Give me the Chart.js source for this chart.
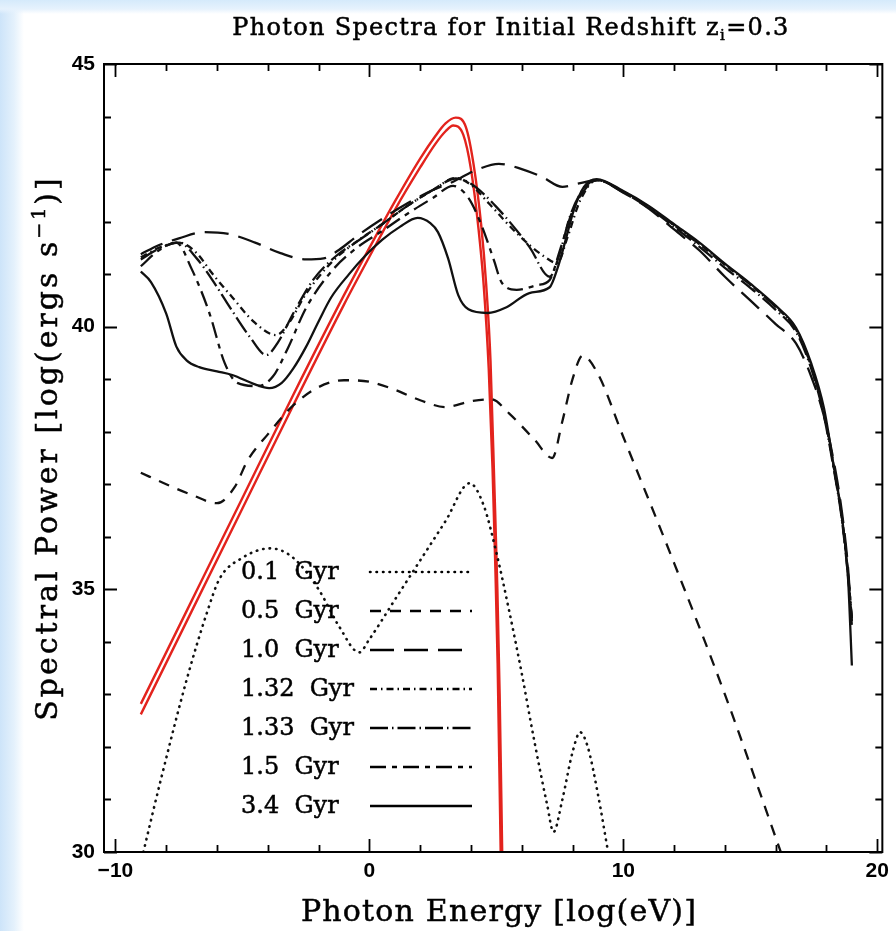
<!DOCTYPE html>
<html>
<head>
<meta charset="utf-8">
<title>Photon Spectra</title>
<script src="https://cdn.jsdelivr.net/npm/chart.js@4.4.1/dist/chart.umd.min.js"></script>
<style>
  html, body { margin: 0; padding: 0; }
  body {
    width: 896px;
    height: 931px;
    overflow: hidden;
    background:
      linear-gradient(to bottom, #d5eafb 0, #e6f2fd 9px, rgba(255,255,255,0) 14px),
      linear-gradient(to right, #cde4f9 0, #e4f1fc 14px, #ffffff 24px);
  }
  #wrap { position: absolute; left: 0; top: 0; width: 896px; height: 931px; }
</style>
</head>
<body>
<div id="wrap"><canvas id="spectra" width="896" height="931"></canvas></div>
<script>
'use strict';

// ages shown in the key, top to bottom
var ageLabels = ['0.1 Gyr', '0.5 Gyr', '1.0 Gyr', '1.32 Gyr', '1.33 Gyr', '1.5 Gyr', '3.4 Gyr'];

// log photon energy [log(eV)] and spectral power [log(erg/s)] per age
var logE01 = [-8.9, -8.2, -7.2, -6.4, -5.9, -5.0, -3.9, -3.0, -2.0, -1.2, -0.4, 0.0, 1.0, 2.0, 3.0, 3.95, 4.5, 5.0, 5.5, 6.0, 6.5, 7.0, 7.25, 7.6, 8.0, 8.3, 8.6, 9.0, 9.4];
var logP01 = [30.0, 31.4, 33.27, 34.55, 35.2, 35.6, 35.78, 35.6, 35.0, 34.3, 33.8, 34.05, 34.8, 35.55, 36.3, 37.02, 36.6, 35.7, 34.6, 33.4, 32.1, 30.9, 30.38, 31.0, 31.9, 32.28, 32.0, 31.1, 30.0];

var logE05 = [-9, -8, -7, -6, -5.3, -4.8, -4, -3, -2, -1, 0, 1, 2, 3, 4, 4.8, 5.5, 6.5, 7.2, 7.6, 8.0, 8.4, 9.0, 10, 12, 14, 16.2];
var logP05 = [37.22, 37.0, 36.8, 36.64, 36.95, 37.45, 37.95, 38.5, 38.85, 38.98, 38.95, 38.8, 38.6, 38.47, 38.58, 38.62, 38.35, 37.85, 37.5, 38.2, 39.0, 39.45, 39.1, 37.9, 35.5, 33.0, 30.0];

var logE10 = [-9, -8.3, -7.5, -6.5, -5.5, -4.5, -3.5, -2.5, -1.8, -1.2, -0.5, 0.5, 1.5, 2.5, 3.3, 4.2, 5.1, 6.0, 6.8, 7.6, 8.2, 8.95, 10, 11, 12, 13, 14, 15, 16, 16.8, 17.4, 17.9, 18.3, 18.6, 18.85, 19.0];
var logP10 = [41.38, 41.55, 41.68, 41.8, 41.76, 41.6, 41.4, 41.28, 41.3, 41.46, 41.72, 42.05, 42.35, 42.6, 42.76, 42.98, 43.1, 43.0, 42.85, 42.66, 42.72, 42.79, 42.55, 42.25, 41.85, 41.45, 40.95, 40.5, 40.05, 39.68, 39.05, 38.3, 37.4, 36.5, 35.4, 34.3];

var logE132 = [-9, -8.3, -7.5, -6.8, -6.2, -5.4, -4.5, -3.67, -3.2, -2.5, -1.5, -0.5, 0.5, 1.5, 2.5, 3.4, 4.0, 4.7, 5.8, 6.9, 7.4, 7.8, 8.3, 8.95, 10, 11, 12, 13, 14, 15, 16, 16.8, 17.4, 17.9, 18.3, 18.6, 18.85, 19.0];
var logP132 = [41.32, 41.5, 41.6, 41.4, 41.02, 40.56, 40.07, 39.84, 40.05, 40.62, 41.22, 41.62, 41.95, 42.3, 42.6, 42.83, 42.7, 42.35, 41.78, 41.33, 41.21, 41.7, 42.4, 42.79, 42.57, 42.28, 41.93, 41.57, 41.18, 40.8, 40.38, 39.95, 39.25, 38.35, 37.3, 36.4, 35.3, 34.4];

var logE133 = [-9, -8.3, -7.5, -6.8, -6.2, -5.6, -4.7, -4.06, -3.6, -3.0, -2.2, -1.3, -0.4, 0.5, 1.5, 2.5, 3.4, 4.0, 5.0, 6.3, 7.1, 7.5, 7.9, 8.4, 8.95, 10, 11, 12, 13, 14, 15, 16, 16.8, 17.4, 17.9, 18.3, 18.6, 18.85, 19.0];
var logP133 = [41.28, 41.48, 41.6, 41.3, 40.9, 40.45, 39.8, 39.46, 39.7, 40.25, 40.9, 41.35, 41.65, 41.95, 42.3, 42.6, 42.82, 42.72, 42.28, 41.52, 40.95, 41.4, 42.1, 42.6, 42.79, 42.56, 42.26, 41.9, 41.52, 41.12, 40.74, 40.32, 39.9, 39.2, 38.3, 37.25, 36.35, 35.25, 34.45];

var logE15 = [-9, -8.3, -7.6, -7.0, -6.3, -5.7, -5.2, -4.4, -3.8, -3.2, -2.5, -1.5, -0.5, 0.5, 1.5, 2.5, 3.3, 3.9, 4.4, 4.9, 5.2, 5.8, 6.6, 7.1, 7.5, 8.0, 8.5, 8.95, 10, 11, 12, 13, 14, 15, 16, 16.8, 17.4, 17.9, 18.3, 18.6, 18.85, 19.0];
var logP15 = [41.15, 41.45, 41.6, 41.1, 40.26, 39.31, 38.93, 38.87, 39.05, 39.6, 40.35, 41.05, 41.5, 41.82, 42.15, 42.45, 42.68, 42.45, 41.95, 41.27, 40.85, 40.7, 40.79, 40.89, 41.45, 42.2, 42.62, 42.79, 42.57, 42.28, 41.93, 41.57, 41.18, 40.8, 40.38, 39.95, 39.25, 38.35, 37.3, 36.4, 35.3, 34.4];

var logE34 = [-9, -8.6, -8.0, -7.6, -7.2, -6.7, -6.0, -5.4, -4.5, -3.95, -3.45, -3.0, -2.5, -2.0, -1.5, -0.8, -0.2, 0.5, 1.2, 1.9, 2.4, 2.7, 3.1, 3.5, 3.9, 4.65, 5.4, 6.3, 7.1, 7.4, 7.7, 8.05, 8.45, 8.95, 10, 11, 12, 13, 14, 15, 16, 16.8, 17.4, 17.9, 18.3, 18.6, 18.85, 19.0];
var logP34 = [41.05, 40.85, 40.25, 39.62, 39.36, 39.23, 39.15, 39.08, 38.9, 38.83, 38.93, 39.2, 39.61, 40.1, 40.56, 41.0, 41.33, 41.65, 41.9, 42.07, 41.97, 41.8, 41.3, 40.6, 40.33, 40.26, 40.37, 40.64, 40.75, 41.1, 41.6, 42.22, 42.66, 42.81, 42.58, 42.3, 41.95, 41.6, 41.2, 40.82, 40.4, 39.98, 39.3, 38.45, 37.3, 36.4, 35.2, 33.55];

// the two blackbody-like curves in red
var logEbbA = [-9, -7, -5, -3, -1, 0, 1, 2, 2.6, 3.0, 3.4, 3.8, 4.1, 4.4, 4.6, 4.77, 4.92, 5.04, 5.13, 5.23];
var logPbbA = [32.82, 34.78, 36.74, 38.7, 40.6, 41.5, 42.38, 43.2, 43.63, 43.87, 43.98, 43.8, 43.1, 41.95, 40.8, 39.35, 37.0, 35.0, 33.0, 30.0];
var logEbbB = [-9, -7, -5, -3, -1, 0, 1, 2, 2.6, 3.0, 3.3, 3.7, 4.0, 4.3, 4.5, 4.7, 4.85, 4.95, 5.05, 5.17];
var logPbbB = [32.62, 34.58, 36.54, 38.5, 40.42, 41.33, 42.22, 43.03, 43.48, 43.72, 43.83, 43.65, 43.0, 41.85, 40.8, 39.2, 37.3, 35.6, 33.6, 30.0];

var xTicks = [-10, 0, 10, 20];
var yTicks = [30, 35, 40, 45];

// dash pattern for each age, same order as ageLabels
var dashes = [
  [0.5, 6],
  [11, 9],
  [24, 10],
  [7, 4, 1.5, 4],
  [18, 4, 1.5, 4],
  [16, 6, 5, 6],
  []
];

function pairs(xs, ys) {
  var out = [];
  for (var i = 0; i < xs.length; i++) {
    out.push({ x: xs[i], y: ys[i] });
  }
  return out;
}

var ageSeries = [
  pairs(logE01, logP01),
  pairs(logE05, logP05),
  pairs(logE10, logP10),
  pairs(logE132, logP132),
  pairs(logE133, logP133),
  pairs(logE15, logP15),
  pairs(logE34, logP34)
];

var datasets = [];
for (var i = 0; i < ageSeries.length; i++) {
  datasets.push({
    label: ageLabels[i],
    data: ageSeries[i],
    borderColor: '#111',
    borderWidth: i === 0 ? 2.6 : 2.3,
    borderDash: dashes[i],
    borderCapStyle: i === 0 ? 'round' : 'butt',
    showLine: true,
    pointRadius: 0,
    cubicInterpolationMode: 'monotone'
  });
}
datasets.push({
  label: 'bbA',
  data: pairs(logEbbA, logPbbA),
  borderColor: '#e3231d',
  borderWidth: 2.4,
  showLine: true,
  pointRadius: 0,
  cubicInterpolationMode: 'monotone'
});
datasets.push({
  label: 'bbB',
  data: pairs(logEbbB, logPbbB),
  borderColor: '#e3231d',
  borderWidth: 2.4,
  showLine: true,
  pointRadius: 0,
  cubicInterpolationMode: 'monotone'
});

var serif = '"DejaVu Serif", serif';

// fill plus a thin stroke, the plot fonts are a little heavier than the book weight
function heavyText(ctx, s, x, y) {
  ctx.fillText(s, x, y);
  ctx.strokeText(s, x, y);
}

// box, inward ticks, titles and the key
var framePlugin = {
  id: 'frame',
  afterDatasetsDraw: function (chart) {
    var ctx = chart.ctx;
    var a = chart.chartArea;
    var xs = chart.scales.x;
    var ys = chart.scales.y;
    var v, p, len;

    ctx.save();
    ctx.strokeStyle = '#000';
    ctx.lineWidth = 2;
    ctx.strokeRect(a.left, a.top, a.right - a.left, a.bottom - a.top);

    ctx.lineWidth = 1.8;
    ctx.beginPath();
    for (v = -10; v <= 20; v += 2) {
      p = Math.round(xs.getPixelForValue(v)) + 0.5;
      len = v % 10 === 0 ? 13 : 7;
      ctx.moveTo(p, a.bottom); ctx.lineTo(p, a.bottom - len);
      ctx.moveTo(p, a.top); ctx.lineTo(p, a.top + len);
    }
    for (v = 30; v <= 45; v += 1) {
      p = Math.round(ys.getPixelForValue(v)) + 0.5;
      len = v % 5 === 0 ? 13 : 7;
      ctx.moveTo(a.left, p); ctx.lineTo(a.left + len, p);
      ctx.moveTo(a.right, p); ctx.lineTo(a.right - len, p);
    }
    ctx.stroke();

    ctx.fillStyle = '#000';
    ctx.lineWidth = 0.5;
    ctx.textBaseline = 'alphabetic';

    // main title with subscript i
    ctx.letterSpacing = '1.3px';
    var big = '24px ' + serif, small = '15px ' + serif;
    var t1 = 'Photon Spectra for Initial Redshift z', t2 = 'i', t3 = '=0.3';
    ctx.font = big;
    var w1 = ctx.measureText(t1).width, w3 = ctx.measureText(t3).width;
    ctx.font = small;
    var w2 = ctx.measureText(t2).width;
    var tx = 511 - (w1 + w2 + w3) / 2;
    ctx.font = big;
    heavyText(ctx, t1, tx, 35);
    ctx.font = small;
    heavyText(ctx, t2, tx + w1, 40);
    ctx.font = big;
    heavyText(ctx, t3, tx + w1 + w2, 35);

    // x axis title
    ctx.letterSpacing = '1.2px';
    ctx.font = '30px ' + serif;
    ctx.textAlign = 'center';
    heavyText(ctx, 'Photon Energy [log(eV)]', 499, 921);

    // y axis title, rotated, with superscript -1
    ctx.save();
    ctx.translate(57, 448);
    ctx.rotate(-Math.PI / 2);
    ctx.textAlign = 'left';
    ctx.letterSpacing = '3px';
    var s1 = 'Spectral Power [log(ergs s', s2 = '\u22121', s3 = ')]';
    ctx.font = '30px ' + serif;
    var u1 = ctx.measureText(s1).width, u3 = ctx.measureText(s3).width;
    ctx.font = '19px ' + serif;
    var u2 = ctx.measureText(s2).width;
    var sx = -(u1 + u2 + u3) / 2;
    ctx.font = '30px ' + serif;
    heavyText(ctx, s1, sx, 0);
    ctx.font = '19px ' + serif;
    heavyText(ctx, s2, sx + u1, -12);
    ctx.font = '30px ' + serif;
    heavyText(ctx, s3, sx + u1 + u2, 0);
    ctx.restore();

    // key
    ctx.letterSpacing = '0px';
    ctx.textAlign = 'left';
    ctx.textBaseline = 'middle';
    ctx.font = '24px ' + serif;
    for (var k = 0; k < ageLabels.length; k++) {
      var ry = 572 + k * 39;
      ctx.lineWidth = 0.5;
      ctx.setLineDash([]);
      heavyText(ctx, ageLabels[k].replace(' ', '  '), 241, ry + 1);
      ctx.beginPath();
      ctx.setLineDash(dashes[k]);
      ctx.lineCap = k === 0 ? 'round' : 'butt';
      ctx.lineWidth = k === 0 ? 2.6 : 2.3;
      ctx.moveTo(370, ry);
      ctx.lineTo(472, ry);
      ctx.stroke();
    }
    ctx.restore();
  }
};

var tickFont = { family: '"Liberation Sans", Arial, sans-serif', weight: 'bold', size: 21 };

var ctx = document.getElementById('spectra').getContext('2d');
var chart = new Chart(ctx, {
  type: 'scatter',
  data: { datasets: datasets },
  options: {
    responsive: false,
    devicePixelRatio: 1,
    animation: false,
    layout: { padding: { top: 64, right: 8, left: 0, bottom: 0 } },
    plugins: {
      legend: { display: false },
      title: { display: false },
      tooltip: { enabled: false }
    },
    scales: {
      x: {
        type: 'linear',
        min: -10.45,
        max: 20.2,
        grid: { display: false, drawTicks: false },
        border: { display: false },
        afterBuildTicks: function (scale) {
          scale.ticks = xTicks.map(function (v) { return { value: v }; });
        },
        afterFit: function (scale) { scale.height = 79; },
        ticks: {
          padding: 7,
          maxRotation: 0,
          autoSkip: false,
          color: '#000',
          font: tickFont,
          callback: function (v) { return String(v).replace('-', '\u2212'); }
        }
      },
      y: {
        type: 'linear',
        min: 30,
        max: 45,
        grid: { display: false, drawTicks: false },
        border: { display: false },
        afterBuildTicks: function (scale) {
          scale.ticks = yTicks.map(function (v) { return { value: v }; });
        },
        afterFit: function (scale) { scale.width = 104; },
        ticks: {
          padding: 9,
          autoSkip: false,
          color: '#000',
          font: tickFont
        }
      }
    }
  },
  plugins: [framePlugin]
});
</script>
</body>
</html>
